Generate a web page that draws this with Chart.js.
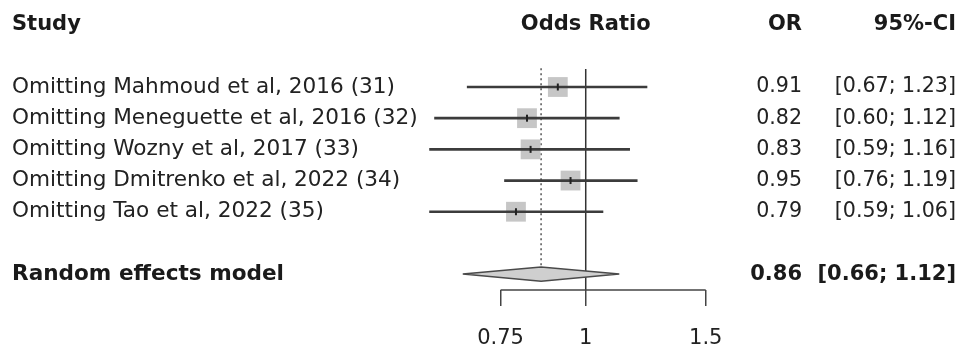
<!DOCTYPE html>
<html lang="en">
<head>
    <meta charset="UTF-8">
    <title>Forest plot - leave-one-out</title>
    <script src="https://cdn.jsdelivr.net/npm/chart.js"></script>
    <style>
        * { margin: 0; padding: 0; box-sizing: border-box; }
        body { background: #fff; width: 969px; height: 360px; overflow: hidden; }
        canvas { display: block; }
    </style>
</head>
<body>
    <canvas id="forest" width="969" height="360"></canvas>

    <script>
        // study data
        const studies = [
            'Omitting Mahmoud et al, 2016 (31)',
            'Omitting Meneguette et al, 2016 (32)',
            'Omitting Wozny et al, 2017 (33)',
            'Omitting Dmitrenko et al, 2022 (34)',
            'Omitting Tao et al, 2022 (35)'
        ];
        const orValues = [0.91, 0.82, 0.83, 0.95, 0.79];
        const ciLower = [0.67, 0.60, 0.59, 0.76, 0.59];
        const ciUpper = [1.23, 1.12, 1.16, 1.19, 1.06];

        const summaryLabel = 'Random effects model';
        const summaryOR = 0.86;
        const summaryLower = 0.66;
        const summaryUpper = 1.12;

        const xTicks = [0.75, 1, 1.5];

        // row positions: studies 0..4, summary row 6, header row -2
        const studyRows = studies.map((s, i) => i);
        const summaryRow = 6;
        const headerRow = -2;

        const FONT = "'DejaVu Sans', sans-serif";
        const fmt = v => v.toFixed(2);

        // text columns + axis line drawn through the scales
        const tablePlugin = {
            id: 'table',
            afterDraw(chart) {
                const ctx = chart.ctx;
                const x = chart.scales.x;
                const y = chart.scales.y;
                ctx.save();
                ctx.fillStyle = '#1a1a1a';
                ctx.textBaseline = 'middle';

                // header
                ctx.font = 'bold 21px ' + FONT;
                let hy = y.getPixelForValue(headerRow);
                ctx.textAlign = 'left';
                ctx.fillText('Study', 12, hy);
                ctx.textAlign = 'center';
                ctx.fillText('Odds Ratio', x.getPixelForValue(1), hy);
                ctx.textAlign = 'right';
                ctx.fillText('OR', 802, hy);
                ctx.fillText('95%-CI', 956, hy);

                // studies
                ctx.fillStyle = '#222';
                studies.forEach((s, i) => {
                    const py = y.getPixelForValue(studyRows[i]);
                    ctx.font = '21.6px ' + FONT;
                    ctx.textAlign = 'left';
                    ctx.fillText(s, 12, py);
                    ctx.font = '20.6px ' + FONT;
                    ctx.textAlign = 'right';
                    ctx.fillText(fmt(orValues[i]), 802, py);
                    ctx.fillText('[' + fmt(ciLower[i]) + '; ' + fmt(ciUpper[i]) + ']', 956, py);
                });

                // summary
                ctx.fillStyle = '#1a1a1a';
                const sy = y.getPixelForValue(summaryRow);
                ctx.font = 'bold 21.6px ' + FONT;
                ctx.textAlign = 'left';
                ctx.fillText(summaryLabel, 12, sy);
                ctx.font = 'bold 21px ' + FONT;
                ctx.textAlign = 'right';
                ctx.fillText(fmt(summaryOR), 802, sy);
                ctx.fillText('[' + fmt(summaryLower) + '; ' + fmt(summaryUpper) + ']', 956, sy);

                // x axis baseline between first and last tick
                const ay = chart.chartArea.bottom;
                ctx.strokeStyle = '#444';
                ctx.lineWidth = 1.5;
                ctx.beginPath();
                ctx.moveTo(x.getPixelForValue(xTicks[0]), ay);
                ctx.lineTo(x.getPixelForValue(xTicks[xTicks.length - 1]), ay);
                ctx.stroke();
                ctx.restore();
            }
        };

        const diamondHalf = 0.23;
        const diamond = [
            { x: summaryLower, y: summaryRow },
            { x: summaryOR, y: summaryRow - diamondHalf },
            { x: summaryUpper, y: summaryRow },
            { x: summaryOR, y: summaryRow + diamondHalf },
            { x: summaryLower, y: summaryRow }
        ];

        new Chart(document.getElementById('forest'), {
            type: 'bar',
            data: {
                datasets: [
                    {
                        // confidence intervals as floating bars
                        type: 'bar',
                        data: studies.map((s, i) => ({ x: [ciLower[i], ciUpper[i]], y: studyRows[i] })),
                        backgroundColor: '#3c3c3c',
                        barThickness: 2,
                        order: 2
                    },
                    {
                        // study weight squares
                        type: 'scatter',
                        data: studies.map((s, i) => ({ x: orValues[i], y: studyRows[i] })),
                        pointStyle: 'rect',
                        pointRadius: 14,
                        backgroundColor: '#c6c6c6',
                        borderWidth: 0,
                        order: 3
                    },
                    {
                        // point estimate tick
                        type: 'scatter',
                        data: studies.map((s, i) => ({ x: orValues[i], y: studyRows[i] })),
                        pointStyle: 'line',
                        rotation: 90,
                        pointRadius: 3.5,
                        borderColor: '#222',
                        borderWidth: 2,
                        order: 1
                    },
                    {
                        // line of no effect
                        type: 'line',
                        data: [{ x: 1, y: -0.58 }, { x: 1, y: 6.6 }],
                        borderColor: '#333',
                        borderWidth: 1.5,
                        pointRadius: 0,
                        order: 4
                    },
                    {
                        // summary estimate (dotted)
                        type: 'line',
                        data: [{ x: summaryOR, y: -0.6 }, { x: summaryOR, y: summaryRow - diamondHalf }],
                        borderColor: '#555',
                        borderWidth: 1.5,
                        borderDash: [2, 3],
                        pointRadius: 0,
                        order: 5
                    },
                    {
                        // summary diamond
                        type: 'line',
                        data: diamond,
                        borderColor: '#4a4a4a',
                        backgroundColor: '#cfcfcf',
                        borderWidth: 1.5,
                        fill: 'shape',
                        pointRadius: 0,
                        tension: 0,
                        order: 0
                    }
                ]
            },
            options: {
                indexAxis: 'y',
                responsive: false,
                animation: false,
                maintainAspectRatio: false,
                layout: { padding: 0, autoPadding: false },
                plugins: {
                    legend: { display: false },
                    tooltip: { enabled: false }
                },
                scales: {
                    x: {
                        type: 'logarithmic',
                        position: 'bottom',
                        min: 0.1382,
                        max: 3.651,
                        bounds: 'data',
                        afterBuildTicks: scale => {
                            scale.ticks = xTicks.map(v => ({ value: v }));
                        },
                        afterFit: scale => {
                            scale.height = 70;
                            scale.paddingLeft = 0;
                            scale.paddingRight = 0;
                        },
                        ticks: {
                            autoSkip: false,
                            maxRotation: 0,
                            padding: 20,
                            color: '#222',
                            font: { family: FONT, size: 21 },
                            callback: v => String(v)
                        },
                        grid: {
                            display: true,
                            drawOnChartArea: false,
                            drawTicks: true,
                            tickLength: 16,
                            color: '#444',
                            lineWidth: 1.5
                        },
                        border: { display: false }
                    },
                    y: {
                        type: 'linear',
                        display: false,
                        reverse: true,
                        offset: false,
                        min: -2.79,
                        max: 6.51
                    }
                }
            },
            plugins: [tablePlugin]
        });
    </script>
</body>
</html>
